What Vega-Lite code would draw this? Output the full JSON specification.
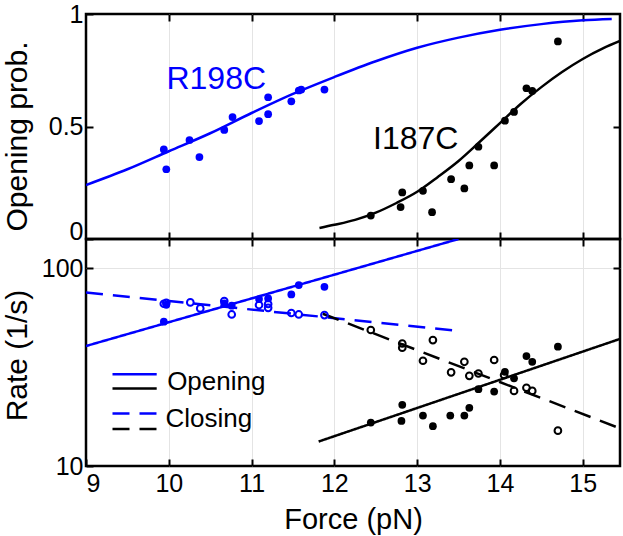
{
  "$schema": "https://vega.github.io/schema/vega-lite/v6.json",
  "padding": {"left": 0, "top": 0, "right": 5, "bottom": 0},
  "bounds": "flush",
  "spacing": 0,
  "config": {
    "font": "Liberation Sans",
    "view": {"stroke": "black", "strokeWidth": 2.5},
    "axis": {
      "tickColor": "black", "tickWidth": 2, "tickSize": -7, "domain": false,
      "gridColor": "#e4e4e4", "gridWidth": 1, "labelColor": "black", "titleColor": "black",
      "labelFontSize": 25, "titleFontSize": 30, "titleFontWeight": "normal",
      "labelFont": "Liberation Sans", "titleFont": "Liberation Sans"
    }
  },
  "datasets": {
    "probCurves": [
      {"protein": "R198C", "force": 9, "prob": 0.24},
      {"protein": "R198C", "force": 9.5, "prob": 0.31},
      {"protein": "R198C", "force": 10, "prob": 0.39},
      {"protein": "R198C", "force": 10.5, "prob": 0.47},
      {"protein": "R198C", "force": 11, "prob": 0.56},
      {"protein": "R198C", "force": 11.5, "prob": 0.645},
      {"protein": "R198C", "force": 12, "prob": 0.72},
      {"protein": "R198C", "force": 12.5, "prob": 0.79},
      {"protein": "R198C", "force": 13, "prob": 0.85},
      {"protein": "R198C", "force": 13.5, "prob": 0.895},
      {"protein": "R198C", "force": 14, "prob": 0.93},
      {"protein": "R198C", "force": 14.5, "prob": 0.955},
      {"protein": "R198C", "force": 15, "prob": 0.972},
      {"protein": "R198C", "force": 15.35, "prob": 0.978},
      {"protein": "I187C", "force": 11.82, "prob": 0.049},
      {"protein": "I187C", "force": 12, "prob": 0.063},
      {"protein": "I187C", "force": 12.25, "prob": 0.085},
      {"protein": "I187C", "force": 12.5, "prob": 0.117},
      {"protein": "I187C", "force": 12.75, "prob": 0.16},
      {"protein": "I187C", "force": 13, "prob": 0.21},
      {"protein": "I187C", "force": 13.25, "prob": 0.276},
      {"protein": "I187C", "force": 13.5, "prob": 0.347},
      {"protein": "I187C", "force": 13.75, "prob": 0.43},
      {"protein": "I187C", "force": 14, "prob": 0.515},
      {"protein": "I187C", "force": 14.25, "prob": 0.6},
      {"protein": "I187C", "force": 14.5, "prob": 0.675},
      {"protein": "I187C", "force": 14.75, "prob": 0.742},
      {"protein": "I187C", "force": 15, "prob": 0.8},
      {"protein": "I187C", "force": 15.25, "prob": 0.848},
      {"protein": "I187C", "force": 15.45, "prob": 0.88}
    ],
    "probPoints": [
      {"protein": "R198C", "force": 9.94, "prob": 0.398},
      {"protein": "R198C", "force": 9.97, "prob": 0.31},
      {"protein": "R198C", "force": 10.25, "prob": 0.44},
      {"protein": "R198C", "force": 10.37, "prob": 0.364},
      {"protein": "R198C", "force": 10.67, "prob": 0.485},
      {"protein": "R198C", "force": 10.77, "prob": 0.542},
      {"protein": "R198C", "force": 11.09, "prob": 0.524},
      {"protein": "R198C", "force": 11.2, "prob": 0.63},
      {"protein": "R198C", "force": 11.2, "prob": 0.555},
      {"protein": "R198C", "force": 11.48, "prob": 0.612},
      {"protein": "R198C", "force": 11.57, "prob": 0.66},
      {"protein": "R198C", "force": 11.6, "prob": 0.664},
      {"protein": "R198C", "force": 11.88, "prob": 0.664},
      {"protein": "I187C", "force": 12.44, "prob": 0.104},
      {"protein": "I187C", "force": 12.8, "prob": 0.142},
      {"protein": "I187C", "force": 12.82, "prob": 0.207},
      {"protein": "I187C", "force": 13.07, "prob": 0.214},
      {"protein": "I187C", "force": 13.18, "prob": 0.119},
      {"protein": "I187C", "force": 13.41, "prob": 0.266},
      {"protein": "I187C", "force": 13.57, "prob": 0.225},
      {"protein": "I187C", "force": 13.63, "prob": 0.327},
      {"protein": "I187C", "force": 13.74, "prob": 0.41},
      {"protein": "I187C", "force": 13.93, "prob": 0.327},
      {"protein": "I187C", "force": 14.06, "prob": 0.526},
      {"protein": "I187C", "force": 14.17, "prob": 0.565},
      {"protein": "I187C", "force": 14.32, "prob": 0.67},
      {"protein": "I187C", "force": 14.39, "prob": 0.658},
      {"protein": "I187C", "force": 14.7, "prob": 0.878}
    ],
    "probLabels": [
      {"protein": "R198C", "force": 10.573, "prob": 0.71, "label": "R198C"},
      {"protein": "I187C", "force": 12.983, "prob": 0.445, "label": "I187C"}
    ],
    "rateLines": [
      {"protein": "R198C", "kind": "Opening", "curve": "fit", "force": 9, "rate": 40.5},
      {"protein": "R198C", "kind": "Opening", "curve": "fit", "force": 13.5, "rate": 141},
      {"protein": "R198C", "kind": "Closing", "curve": "fit", "force": 9, "rate": 75.5},
      {"protein": "R198C", "kind": "Closing", "curve": "fit", "force": 13.53, "rate": 48.2},
      {"protein": "I187C", "kind": "Opening", "curve": "fit", "force": 11.81, "rate": 13.3},
      {"protein": "I187C", "kind": "Opening", "curve": "fit", "force": 15.45, "rate": 44},
      {"protein": "I187C", "kind": "Closing", "curve": "fit", "force": 11.86, "rate": 59},
      {"protein": "I187C", "kind": "Closing", "curve": "fit", "force": 15.45, "rate": 15.5},
      {"protein": "R198C", "kind": "Opening", "curve": "key", "force": 9.32, "rate": 29.1},
      {"protein": "R198C", "kind": "Opening", "curve": "key", "force": 9.854, "rate": 29.1},
      {"protein": "I187C", "kind": "Opening", "curve": "key", "force": 9.32, "rate": 24.7},
      {"protein": "I187C", "kind": "Opening", "curve": "key", "force": 9.854, "rate": 24.7},
      {"protein": "R198C", "kind": "Closing", "curve": "key", "force": 9.32, "rate": 18.46},
      {"protein": "R198C", "kind": "Closing", "curve": "key", "force": 9.854, "rate": 18.46},
      {"protein": "I187C", "kind": "Closing", "curve": "key", "force": 9.32, "rate": 15.39},
      {"protein": "I187C", "kind": "Closing", "curve": "key", "force": 9.854, "rate": 15.39}
    ],
    "openRates": [
      {"protein": "R198C", "force": 9.94, "rate": 53.8},
      {"protein": "R198C", "force": 9.97, "rate": 65.5},
      {"protein": "R198C", "force": 10.67, "rate": 66.5},
      {"protein": "R198C", "force": 10.76, "rate": 64.8},
      {"protein": "R198C", "force": 11.09, "rate": 70.0},
      {"protein": "R198C", "force": 11.2, "rate": 70.5},
      {"protein": "R198C", "force": 11.48, "rate": 73.9},
      {"protein": "R198C", "force": 11.57, "rate": 82.4},
      {"protein": "R198C", "force": 11.88, "rate": 80.8},
      {"protein": "I187C", "force": 12.44, "rate": 16.6},
      {"protein": "I187C", "force": 12.82, "rate": 20.4},
      {"protein": "I187C", "force": 12.81, "rate": 16.9},
      {"protein": "I187C", "force": 13.07, "rate": 18.0},
      {"protein": "I187C", "force": 13.19, "rate": 15.9},
      {"protein": "I187C", "force": 13.4, "rate": 18.0},
      {"protein": "I187C", "force": 13.57, "rate": 18.0},
      {"protein": "I187C", "force": 13.63, "rate": 19.7},
      {"protein": "I187C", "force": 13.74, "rate": 24.5},
      {"protein": "I187C", "force": 13.93, "rate": 23.8},
      {"protein": "I187C", "force": 14.06, "rate": 30.0},
      {"protein": "I187C", "force": 14.17, "rate": 27.8},
      {"protein": "I187C", "force": 14.32, "rate": 36.0},
      {"protein": "I187C", "force": 14.39, "rate": 33.7},
      {"protein": "I187C", "force": 14.7, "rate": 40.2}
    ],
    "closeRates": [
      {"protein": "R198C", "force": 9.94, "rate": 66.3},
      {"protein": "R198C", "force": 9.97, "rate": 67.0},
      {"protein": "R198C", "force": 10.26, "rate": 67.3},
      {"protein": "R198C", "force": 10.38, "rate": 62.8},
      {"protein": "R198C", "force": 10.67, "rate": 68.4},
      {"protein": "R198C", "force": 10.76, "rate": 58.5},
      {"protein": "R198C", "force": 11.09, "rate": 65.3},
      {"protein": "R198C", "force": 11.2, "rate": 66.1},
      {"protein": "R198C", "force": 11.2, "rate": 63.2},
      {"protein": "R198C", "force": 11.48, "rate": 59.5},
      {"protein": "R198C", "force": 11.57, "rate": 58.5},
      {"protein": "R198C", "force": 11.88, "rate": 58.1},
      {"protein": "I187C", "force": 12.44, "rate": 48.8},
      {"protein": "I187C", "force": 12.82, "rate": 41.7},
      {"protein": "I187C", "force": 12.82, "rate": 39.7},
      {"protein": "I187C", "force": 13.07, "rate": 34.1},
      {"protein": "I187C", "force": 13.19, "rate": 43.4},
      {"protein": "I187C", "force": 13.41, "rate": 29.8},
      {"protein": "I187C", "force": 13.57, "rate": 33.7},
      {"protein": "I187C", "force": 13.63, "rate": 28.6},
      {"protein": "I187C", "force": 13.74, "rate": 29.4},
      {"protein": "I187C", "force": 13.93, "rate": 34.4},
      {"protein": "I187C", "force": 14.05, "rate": 28.9},
      {"protein": "I187C", "force": 14.17, "rate": 24.0},
      {"protein": "I187C", "force": 14.32, "rate": 24.9},
      {"protein": "I187C", "force": 14.39, "rate": 24.0},
      {"protein": "I187C", "force": 14.7, "rate": 15.1}
    ],
    "keyLabels": [
      {"force": 9.98, "rate": 26.7, "label": "Opening"},
      {"force": 9.96, "rate": 17.25, "label": "Closing"}
    ]
  },
  "vconcat": [
    {
      "width": 534,
      "height": 225,
      "resolve": {"axis": {"x": "independent", "y": "independent"}},
      "layer": [
        {
          "data": {"name": "probCurves"},
          "mark": {"type": "point", "opacity": 0},
          "encoding": {
            "x": {"field": "force", "type": "quantitative", "scale": {"domain": [9, 15.45], "nice": false, "zero": false},
                  "axis": {"orient": "top", "values": [10, 11, 12, 13, 14, 15], "labels": false, "title": null, "grid": false}},
            "y": {"field": "prob", "type": "quantitative", "scale": {"domain": [0, 1], "nice": false},
                  "axis": {"orient": "right", "values": [0.5], "labels": false, "title": null, "grid": false}}
          }
        },
        {
          "data": {"name": "probCurves"},
          "mark": {"type": "line", "strokeWidth": 2.5, "interpolate": "monotone", "clip": true},
          "encoding": {
            "x": {"field": "force", "type": "quantitative", "scale": {"domain": [9, 15.45], "nice": false, "zero": false},
                  "axis": {"orient": "bottom", "values": [10, 11, 12, 13, 14, 15], "labels": false, "title": null, "grid": true}},
            "y": {"field": "prob", "type": "quantitative", "scale": {"domain": [0, 1], "nice": false},
                  "axis": {"orient": "left", "values": [0, 0.5, 1], "format": "~g", "labelPadding": 10,
                           "title": "Opening prob.", "titleX": -69, "titleY": 122, "titleAngle": 270,
                           "titleAlign": "center", "titleBaseline": "middle",
                           "gridOpacity": {"condition": {"test": "datum.value == 0 || datum.value == 1", "value": 0}, "value": 1},
                           "labelBaseline": {"condition": {"test": "datum.value == 0", "value": "alphabetic"}, "value": "middle"}}},
            "color": {"field": "protein", "type": "nominal", "scale": {"domain": ["R198C", "I187C"], "range": ["#0000ff", "#000000"]}, "legend": null}
          }
        },
        {
          "data": {"name": "probPoints"},
          "mark": {"type": "circle", "size": 60, "opacity": 1},
          "encoding": {
            "x": {"field": "force", "type": "quantitative", "scale": {"domain": [9, 15.45], "nice": false, "zero": false}, "axis": null},
            "y": {"field": "prob", "type": "quantitative", "scale": {"domain": [0, 1], "nice": false}, "axis": null},
            "color": {"field": "protein", "type": "nominal", "scale": {"domain": ["R198C", "I187C"], "range": ["#0000ff", "#000000"]}, "legend": null}
          }
        },
        {
          "data": {"name": "probLabels"},
          "mark": {"type": "text", "fontSize": 32, "align": "center", "baseline": "middle", "font": "Liberation Sans"},
          "encoding": {
            "x": {"field": "force", "type": "quantitative", "scale": {"domain": [9, 15.45], "nice": false, "zero": false}, "axis": null},
            "y": {"field": "prob", "type": "quantitative", "scale": {"domain": [0, 1], "nice": false}, "axis": null},
            "text": {"field": "label"},
            "color": {"field": "protein", "type": "nominal", "scale": {"domain": ["R198C", "I187C"], "range": ["#0000ff", "#000000"]}, "legend": null}
          }
        }
      ]
    },
    {
      "width": 534,
      "height": 227,
      "resolve": {"axis": {"x": "independent", "y": "independent"}},
      "layer": [
        {
          "data": {"name": "rateLines"},
          "mark": {"type": "point", "opacity": 0},
          "encoding": {
            "x": {"field": "force", "type": "quantitative", "scale": {"domain": [9, 15.45], "nice": false, "zero": false},
                  "axis": {"orient": "top", "values": [10, 11, 12, 13, 14, 15], "labels": false, "title": null, "grid": false}},
            "y": {"field": "rate", "type": "quantitative", "scale": {"type": "log", "domain": [10, 141], "nice": false},
                  "axis": {"orient": "right", "values": [100], "labels": false, "title": null, "grid": false}}
          }
        },
        {
          "data": {"name": "rateLines"},
          "mark": {"type": "line", "strokeWidth": 2.5, "clip": true},
          "encoding": {
            "x": {"field": "force", "type": "quantitative", "scale": {"domain": [9, 15.45], "nice": false, "zero": false},
                  "axis": {"orient": "bottom", "values": [9, 10, 11, 12, 13, 14, 15], "labelPadding": 12,
                           "title": "Force (pN)", "titleY": 39, "titleBaseline": "top", "titleFontSize": 29, "grid": true,
                           "gridOpacity": {"condition": {"test": "datum.value == 9", "value": 0}, "value": 1}}},
            "y": {"field": "rate", "type": "quantitative", "scale": {"type": "log", "domain": [10, 141], "nice": false},
                  "axis": {"orient": "left", "values": [10, 100], "format": "d", "labelPadding": 10,
                           "title": "Rate (1/s)", "titleX": -69, "titleY": 116, "titleAngle": 270,
                           "titleAlign": "center", "titleBaseline": "middle", "grid": true,
                           "gridOpacity": {"condition": {"test": "datum.value == 10", "value": 0}, "value": 1}}},
            "color": {"field": "protein", "type": "nominal", "scale": {"domain": ["R198C", "I187C"], "range": ["#0000ff", "#000000"]}, "legend": null},
            "strokeDash": {"field": "kind", "type": "nominal", "scale": {"domain": ["Opening", "Closing"], "range": [[1, 0], [17, 10]]}, "legend": null},
            "detail": {"field": "curve"}
          }
        },
        {
          "data": {"name": "openRates"},
          "mark": {"type": "circle", "size": 60, "opacity": 1},
          "encoding": {
            "x": {"field": "force", "type": "quantitative", "scale": {"domain": [9, 15.45], "nice": false, "zero": false}, "axis": null},
            "y": {"field": "rate", "type": "quantitative", "scale": {"type": "log", "domain": [10, 141], "nice": false}, "axis": null},
            "color": {"field": "protein", "type": "nominal", "scale": {"domain": ["R198C", "I187C"], "range": ["#0000ff", "#000000"]}, "legend": null}
          }
        },
        {
          "data": {"name": "closeRates"},
          "mark": {"type": "point", "shape": "circle", "filled": false, "size": 45, "strokeWidth": 2, "opacity": 1},
          "encoding": {
            "x": {"field": "force", "type": "quantitative", "scale": {"domain": [9, 15.45], "nice": false, "zero": false}, "axis": null},
            "y": {"field": "rate", "type": "quantitative", "scale": {"type": "log", "domain": [10, 141], "nice": false}, "axis": null},
            "color": {"field": "protein", "type": "nominal", "scale": {"domain": ["R198C", "I187C"], "range": ["#0000ff", "#000000"]}, "legend": null}
          }
        },
        {
          "data": {"name": "keyLabels"},
          "mark": {"type": "text", "fontSize": 26, "align": "left", "baseline": "middle", "color": "black", "font": "Liberation Sans"},
          "encoding": {
            "x": {"field": "force", "type": "quantitative", "scale": {"domain": [9, 15.45], "nice": false, "zero": false}, "axis": null},
            "y": {"field": "rate", "type": "quantitative", "scale": {"type": "log", "domain": [10, 141], "nice": false}, "axis": null},
            "text": {"field": "label"}
          }
        }
      ]
    }
  ]
}
